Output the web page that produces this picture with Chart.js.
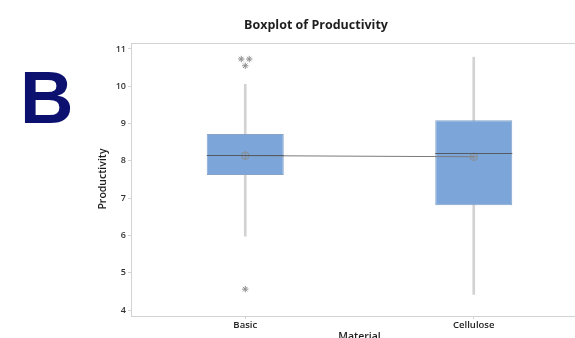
<!DOCTYPE html>
<html>
<head>
<meta charset="utf-8">
<script src="https://cdn.jsdelivr.net/npm/chart.js@4/dist/chart.umd.min.js"></script>
<style>
  html, body { margin: 0; padding: 0; background: #fff; overflow: hidden; width: 575px; height: 338px; }
  #wrap { width: 575px; height: 338px; overflow: hidden; position: relative; }
  canvas { display: block; position: absolute; left: 0; top: 0; }
</style>
</head>
<body>
<div id="wrap"><canvas id="c" width="600" height="338"></canvas></div>
<script>
// Productivity by material: five-number summaries, means and outliers
const categories = ['Basic', 'Cellulose'];
const q1 = [7.62, 6.81];
const q3 = [8.72, 9.09];
const medians = [8.15, 8.21];
const means = [8.14, 8.11];
const whiskerLow = [5.98, 4.42];
const whiskerHigh = [10.05, 10.78];
const outliersBasic = [10.73, 10.73, 10.55, 4.56];
const outliersCellulose = [];
const yTicks = [4, 5, 6, 7, 8, 9, 10, 11];

const outliers = [outliersBasic, outliersCellulose];
const GRAY_AXIS = '#d3d3d3';
const FONT = '"Open Sans", "Noto Sans", sans-serif';

// Median lines, outlier asterisks, frame and free text
const boxExtras = {
  id: 'boxExtras',
  afterDatasetsDraw(chart) {
    const ctx = chart.ctx;
    const x = chart.scales.x, y = chart.scales.y;
    const boxMeta = chart.getDatasetMeta(1);
    ctx.save();
    // median line across each box
    ctx.strokeStyle = '#555b63';
    ctx.lineWidth = 1;
    boxMeta.data.forEach((bar, i) => {
      const py = Math.round(y.getPixelForValue(medians[i])) + 0.5;
      ctx.beginPath();
      ctx.moveTo(bar.x - bar.width / 2, py);
      ctx.lineTo(bar.x + bar.width / 2, py);
      ctx.stroke();
    });
    // outliers, tied values placed side by side
    ctx.strokeStyle = '#8e8e8e';
    outliers.forEach((vals, i) => {
      const cx = x.getPixelForValue(i);
      const seen = {};
      vals.forEach(v => { seen[v] = (seen[v] || 0) + 1; });
      const placed = {};
      vals.forEach(v => {
        const n = seen[v];
        const k = placed[v] = (placed[v] || 0) + 1;
        const px = cx + (k - (n + 1) / 2) * 8;
        const py = y.getPixelForValue(v);
        const r = 3.2;
        ctx.beginPath();
        for (let a = 0; a < 4; a++) {
          const ang = a * Math.PI / 4;
          ctx.moveTo(px - r * Math.cos(ang), py - r * Math.sin(ang));
          ctx.lineTo(px + r * Math.cos(ang), py + r * Math.sin(ang));
        }
        ctx.stroke();
      });
    });
    ctx.restore();
  },
  afterDraw(chart) {
    const ctx = chart.ctx;
    const a = chart.chartArea;
    ctx.save();
    // frame top edge
    ctx.strokeStyle = GRAY_AXIS;
    ctx.lineWidth = 1;
    ctx.beginPath();
    ctx.moveTo(a.left, a.top + 0.5);
    ctx.lineTo(a.right, a.top + 0.5);
    ctx.stroke();

    ctx.fillStyle = '#1e1e1e';
    ctx.textAlign = 'center';
    ctx.textBaseline = 'alphabetic';
    ctx.font = 'bold 12.5px ' + FONT;
    ctx.fillText('Boxplot of Productivity', 316, 29);

    ctx.font = '600 10.5px ' + FONT;
    ctx.textBaseline = 'top';
    ctx.fillText('Material', (a.left + a.right) / 2, 332);

    ctx.save();
    ctx.translate(106, 179);
    ctx.rotate(-Math.PI / 2);
    ctx.textBaseline = 'alphabetic';
    ctx.fillText('Productivity', 0, 0);
    ctx.restore();

    ctx.fillStyle = '#0c1170';
    ctx.textAlign = 'left';
    ctx.textBaseline = 'alphabetic';
    ctx.font = 'bold 74px "Liberation Sans", Arial, sans-serif';
    ctx.fillText('B', 20, 123);
    ctx.restore();
  }
};

new Chart(document.getElementById('c'), {
  data: {
    labels: categories,
    datasets: [
      {
        type: 'bar',
        label: 'Whisker',
        data: categories.map((c, i) => [whiskerLow[i], whiskerHigh[i]]),
        backgroundColor: '#d2d2d2',
        barThickness: 2,
        grouped: false,
        order: 3
      },
      {
        type: 'bar',
        label: 'Box',
        data: categories.map((c, i) => [q1[i], q3[i]]),
        backgroundColor: '#7ca6da',
        borderColor: '#86a3c7',
        borderWidth: 1,
        borderSkipped: false,
        categoryPercentage: 0.337,
        barPercentage: 1,
        grouped: false,
        order: 2
      },
      {
        type: 'line',
        label: 'Mean',
        data: means,
        borderColor: '#7a7a7a',
        borderWidth: 1,
        pointStyle: 'circle',
        pointRadius: 3.8,
        pointBorderWidth: 1,
        pointBorderColor: '#8a8f96',
        pointBackgroundColor: 'rgba(140,140,140,0.15)',
        order: 0
      },
      {
        type: 'line',
        label: 'MeanCross',
        data: means,
        showLine: false,
        pointStyle: 'cross',
        pointRadius: 3.8,
        pointBorderWidth: 1,
        pointBorderColor: '#8a8f96',
        order: 0
      }
    ]
  },
  options: {
    responsive: false,
    animation: false,
    devicePixelRatio: 1,
    events: [],
    layout: { padding: { top: 43, right: 12, left: 0, bottom: 0 } },
    plugins: { legend: { display: false }, tooltip: { enabled: false }, title: { display: false } },
    scales: {
      x: {
        type: 'category',
        offset: true,
        grid: { display: true, drawOnChartArea: false, drawTicks: true, tickLength: 3, color: GRAY_AXIS, offset: false },
        border: { display: true, color: GRAY_AXIS, width: 1 },
        ticks: { color: '#222', padding: 1, font: { family: FONT, size: 9.5, weight: '600' } },
        afterFit: s => { s.height = 22; }
      },
      y: {
        type: 'linear',
        min: 3.84,
        max: 11.16,
        afterBuildTicks: s => { s.ticks = yTicks.map(v => ({ value: v })); },
        grid: { display: true, drawOnChartArea: false, drawTicks: true, tickLength: 3, color: GRAY_AXIS },
        border: { display: true, color: GRAY_AXIS, width: 1 },
        ticks: { color: '#333', padding: 2, font: { family: FONT, size: 9, weight: '600' } },
        afterFit: s => { s.width = 131; }
      }
    }
  },
  plugins: [boxExtras]
});
</script>
</body>
</html>
